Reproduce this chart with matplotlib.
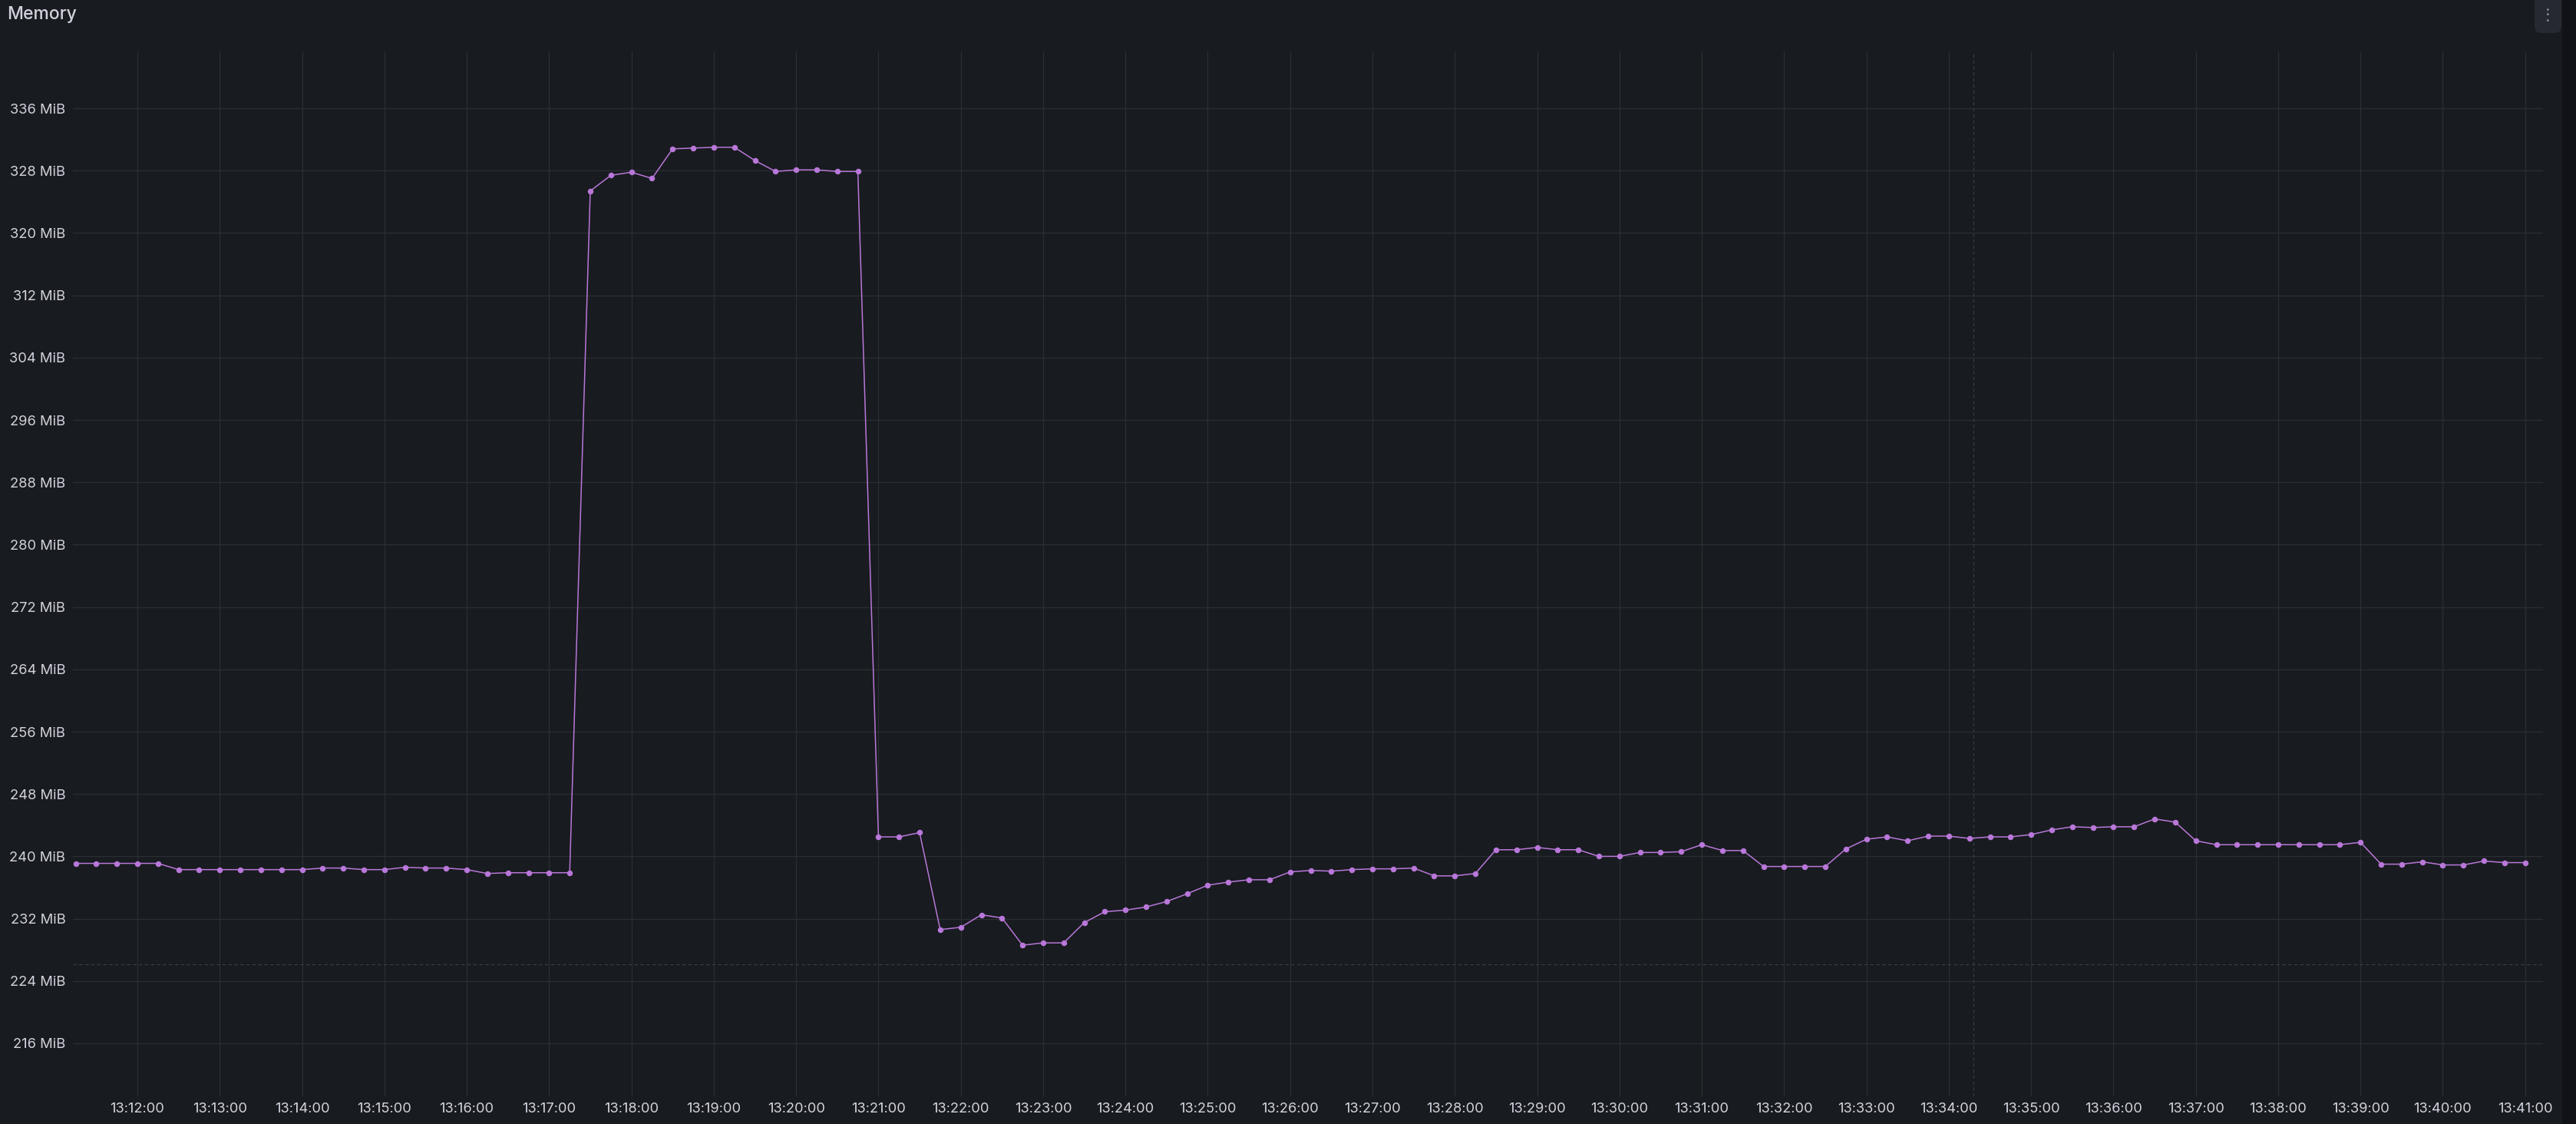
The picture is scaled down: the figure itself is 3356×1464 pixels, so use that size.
import pandas as pd
import matplotlib
matplotlib.use('Agg')
import matplotlib.pyplot as plt
import matplotlib.dates as mdates
from matplotlib.patches import FancyBboxPatch, Rectangle
from matplotlib.transforms import IdentityTransform

# Data: memory samples every 15 s, starting 13:11:15
start_time = '2024-01-01 13:11:15'
sample_step = '15s'
memory_mib = [
    239.1, 239.1, 239.1, 239.1, 239.1,
    238.3, 238.3, 238.3, 238.3, 238.3, 238.3, 238.3,
    238.5, 238.5, 238.3, 238.3, 238.6, 238.5, 238.5, 238.3,
    237.8, 237.9, 237.9, 237.9, 237.9,
    325.4, 327.4, 327.8, 327.0, 330.8, 330.9, 331.0, 331.0,
    329.3, 327.9, 328.1, 328.1, 327.9, 327.9,
    242.5, 242.5, 243.05, 230.6, 230.9, 232.5, 232.1, 228.6, 228.9, 228.9,
    231.5, 232.9, 233.1, 233.5, 234.2, 235.2, 236.3, 236.7, 237.0, 237.0,
    238.0, 238.2, 238.1, 238.3, 238.4, 238.4, 238.5, 237.5, 237.5,
    237.8, 240.85, 240.85, 241.15, 240.85, 240.85, 240.0, 240.0, 240.5, 240.5,
    240.6, 241.5, 240.75, 240.75, 238.7, 238.7, 238.7, 238.7, 240.95, 242.2,
    242.5, 242.0, 242.6, 242.6, 242.3, 242.5,
    242.5, 242.8, 243.4, 243.8, 243.7, 243.8, 243.8, 244.8, 244.4, 242.0,
    241.5, 241.5, 241.5, 241.5, 241.5, 241.5, 241.5, 241.8, 239.0, 239.0,
    239.3, 238.9, 238.9, 239.4, 239.2, 239.2,
]
y_ticks = list(range(216, 337, 8))
x_range = ['2024-01-01 13:11:13', '2024-01-01 13:41:13']
y_range = [209.2, 343.3]
# hover crosshair visible in the screenshot
cursor_time = '2024-01-01 13:34:18'
cursor_value = 226.1

bg = '#181b1f'
text_col = '#d2d2de'
grid_col = '#2b2e33'
line_col = '#b877d9'

plt.rcParams['font.family'] = ['Inter', 'DejaVu Sans']

times = pd.date_range(start_time, periods=len(memory_mib), freq=sample_step)

W, H = 3356, 1464
fig = plt.figure(figsize=(W / 100, H / 100), dpi=100)
fig.patch.set_facecolor(bg)

# darker strip at the right edge of the screenshot (pixel coords, origin bottom-left)
px = IdentityTransform()
fig.patches.append(Rectangle((3338, 0), 30, H, transform=px,
                             facecolor='#111217', edgecolor='none', zorder=0))

# panel menu button
fig.patches.append(FancyBboxPatch((3302, H - 43), 35, 60,
                                  boxstyle='round,pad=0,rounding_size=9',
                                  transform=px, facecolor='#26292f',
                                  edgecolor='none', zorder=1))
for dy in (12, 19, 26):
    fig.text(3319 / W, 1 - dy / H, '•', color='#9a9ca3', fontsize=6,
             ha='center', va='center')

fig.text(9 / W, 1 - 19 / H, 'Memory', color=text_col, fontsize=16.5,
         fontweight='medium', ha='left', va='center')

ax = fig.add_axes([95 / W, 1 - 1428 / H, (3313 - 95) / W, (1428 - 67) / H])
ax.set_facecolor(bg)

ax.plot(times, memory_mib, color=line_col, lw=1.1, marker='o', ms=5.4,
        markeredgewidth=0, zorder=3)

ax.set_xlim(pd.Timestamp(x_range[0]), pd.Timestamp(x_range[1]))
ax.set_ylim(y_range)
ax.set_yticks(y_ticks)
ax.set_yticklabels([f'{v} MiB' for v in y_ticks])
ax.xaxis.set_major_locator(mdates.MinuteLocator())
ax.xaxis.set_major_formatter(mdates.DateFormatter('%H:%M:%S'))

ax.grid(True, color=grid_col, lw=0.9)
ax.set_axisbelow(True)
for s in ax.spines.values():
    s.set_visible(False)
ax.tick_params(axis='both', length=0, colors=text_col, labelsize=13.2)
ax.tick_params(axis='x', pad=6)
ax.tick_params(axis='y', pad=7)

ax.axvline(pd.Timestamp(cursor_time), color='#3c4047', lw=0.8, ls=(0, (4, 3)), zorder=2)
ax.axhline(cursor_value, color='#3c4047', lw=0.8, ls=(0, (4, 3)), zorder=2)

fig.savefig('out.png', dpi=100, facecolor=fig.get_facecolor())
